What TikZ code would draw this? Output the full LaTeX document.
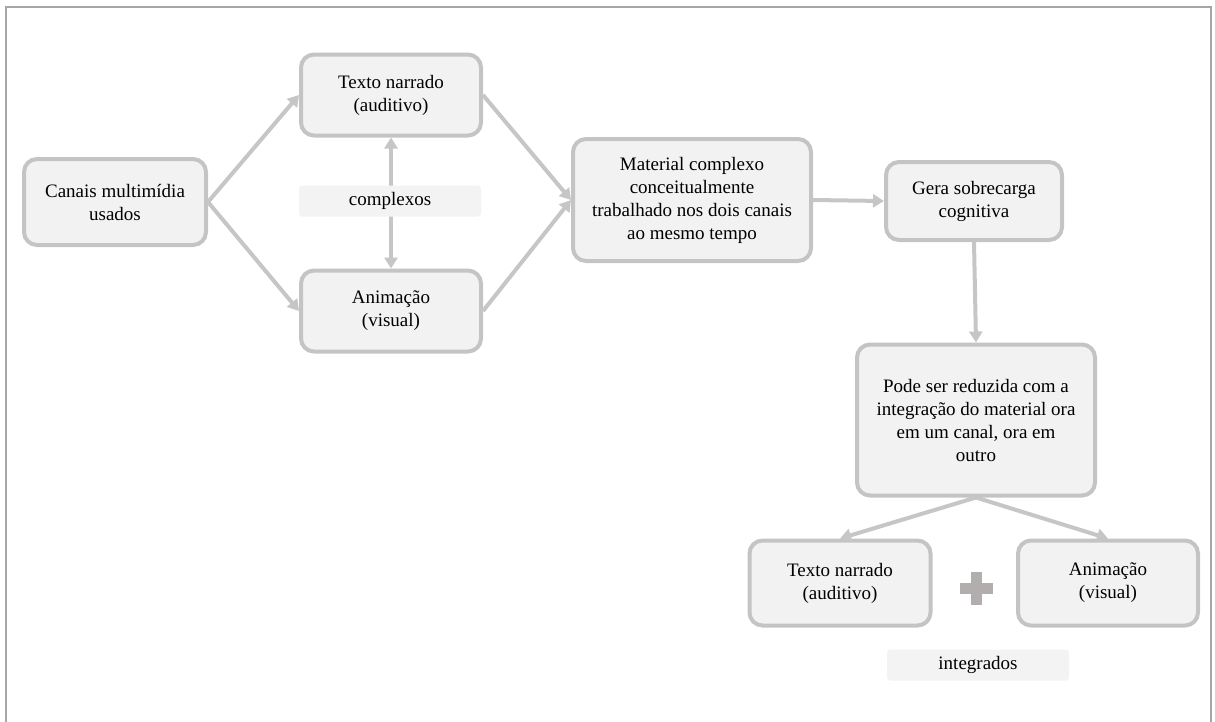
\documentclass[tikz,border=0pt]{standalone}
\usepackage{fontspec}
\setmainfont{Liberation Serif}
\usetikzlibrary{arrows.meta}
\definecolor{boxfill}{HTML}{F2F2F2}
\definecolor{boxline}{HTML}{C4C4C4}
\definecolor{arrowc}{HTML}{C6C6C6}
\definecolor{tagfill}{HTML}{F3F3F3}
\definecolor{framec}{HTML}{A6A6A6}
\definecolor{plusc}{HTML}{B3AEAE}
\tikzset{
  box/.style={draw=boxline, fill=boxfill, line width=4pt, rounded corners=13pt,
    align=center, inner sep=0pt, font=\fontsize{19}{23}\selectfont},
  tag/.style={fill=tagfill, rounded corners=3pt, align=center, inner sep=0pt,
    minimum width=182pt, minimum height=31pt, font=\fontsize{19}{23}\selectfont},
  tip/.style={Triangle[length=11pt,width=13pt]},
  flow/.style={draw=arrowc, line width=4pt, -{Triangle[length=11pt,width=13pt]}},
  both/.style={draw=arrowc, line width=4pt, {Triangle[length=11pt,width=13pt]}-{Triangle[length=11pt,width=13pt]}},
}
\begin{document}
\begin{tikzpicture}[x=1pt, y=-1pt]
\useasboundingbox (0,0) rectangle (1215,721);
% outer frame, open at the bottom
\draw[framec, line width=2pt] (6,740) -- (6,7) -- (1211,7) -- (1211,740);

% nodes
\node[box, minimum width=182pt, minimum height=86pt] (canais) at (115,202) {Canais multimídia\\usados};
\node[box, minimum width=180pt, minimum height=81pt] (texto) at (391,95) {Texto narrado\\(auditivo)};
\node[box, minimum width=180pt, minimum height=81pt] (anim) at (391,311) {Animação\\(visual)};
\node[box, minimum width=238pt, minimum height=122pt] (mat) at (692,200) {Material complexo\\conceitualmente\\trabalhado nos dois canais\\ao mesmo tempo};
\node[box, minimum width=176pt, minimum height=78pt] (gera) at (974,201) {Gera sobrecarga\\cognitiva};
\node[box, minimum width=238pt, minimum height=151pt] (pode) at (976,420) {Pode ser reduzida com a\\integração do material ora\\em um canal, ora em\\outro};
\node[box, minimum width=181pt, minimum height=85pt] (texto2) at (840,583) {Texto narrado\\(auditivo)};
\node[box, minimum width=180pt, minimum height=85pt] (anim2) at (1108,583) {Animação\\(visual)};

% connectors
\draw[flow] (canais.east) -- (texto.west);
\draw[flow] (canais.east) -- (anim.west);
\draw[flow] (texto.east) -- (mat.west);
\draw[flow] (anim.east) -- (mat.west);
\draw[flow] (mat.east) -- (gera.west);
\draw[flow] (gera.south) -- (pode.north);
\draw[flow] (pode.south) -- (texto2.north);
\draw[flow] (pode.south) -- (anim2.north);
\draw[both] (texto.south) -- (anim.north);

% labels
\node[tag] (cx) at (390,201) {complexos};
\node[tag] (integ) at (978,665) {integrados};

% plus sign
\node[fill=plusc, minimum width=33pt, minimum height=11pt, inner sep=0pt] (plush) at (976,588) {};
\node[fill=plusc, minimum width=11pt, minimum height=33pt, inner sep=0pt] (plusv) at (976,588) {};
\end{tikzpicture}
\end{document}
